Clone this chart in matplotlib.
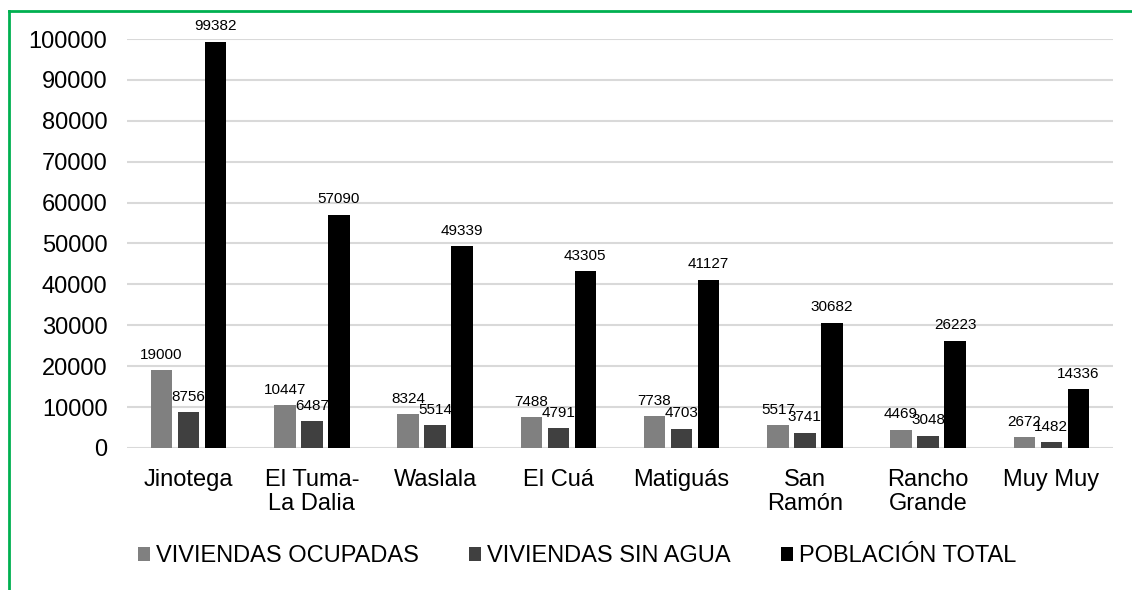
import matplotlib
matplotlib.use("Agg")
import matplotlib.pyplot as plt
from matplotlib.lines import Line2D
from matplotlib.patches import Patch
import numpy as np

plt.rcParams['font.family'] = ['Liberation Sans', 'DejaVu Sans']

categories = ["Jinotega", "El Tuma-\nLa Dalia", "Waslala", "El Cuá", "Matiguás",
              "San\nRamón", "Rancho\nGrande", "Muy Muy"]
viviendas_ocupadas = [19000, 10447, 8324, 7488, 7738, 5517, 4469, 2672]
viviendas_sin_agua = [8756, 6487, 5514, 4791, 4703, 3741, 3048, 1482]
poblacion_total = [99382, 57090, 49339, 43305, 41127, 30682, 26223, 14336]
series_names = ["VIVIENDAS OCUPADAS", "VIVIENDAS SIN AGUA", "POBLACIÓN TOTAL"]
yticks = list(range(0, 100001, 10000))

W, H = 1132, 590
fig = plt.figure(figsize=(W / 100, H / 100), dpi=100)
ax = fig.add_axes([126.9 / W, 1 - 448 / H, (1113 - 126.9) / W, (448 - 39) / H])

x = np.arange(len(categories))
colors = ["#808080", "#404040", "#000000"]
width = 0.175
offset = 0.219
for i, (vals, col, name) in enumerate(zip([viviendas_ocupadas, viviendas_sin_agua, poblacion_total],
                                          colors, series_names)):
    bars = ax.bar(x + (i - 1) * offset, vals, width, color=col, label=name, zorder=3)
    for b, v in zip(bars, vals):
        ax.annotate(str(v), (b.get_x() + b.get_width() / 2, v), xytext=(0, 6),
                    textcoords="offset points", ha="center", va="bottom",
                    fontsize=11, color="#000000", annotation_clip=False, zorder=4)

ax.set_xlim(-0.5, len(categories) - 0.5)
ax.set_ylim(0, 100000)
ax.set_yticks(yticks)
ax.set_yticklabels([str(t) for t in yticks], fontsize=17)
ax.set_xticks(x)
ax.set_xticklabels(categories, fontsize=17, linespacing=1.15)
ax.tick_params(axis='both', length=0)
ax.tick_params(axis='y', pad=14)
ax.tick_params(axis='x', pad=15)
ax.yaxis.grid(True, color="#d9d9d9", linewidth=1.5, zorder=0)
ax.set_axisbelow(True)
for s in ax.spines.values():
    s.set_visible(False)

handles = [Patch(facecolor=c, edgecolor='none') for c in colors]
fig.legend(handles, series_names, loc='center', bbox_to_anchor=(577 / W, 1 - 556 / H),
           ncol=3, frameon=False, fontsize=17, handlelength=0.52, handleheight=0.52,
           handletextpad=0.22, columnspacing=2.15)

# green frame (top and left visible)
green = "#00b050"
fig.add_artist(Line2D([9 / W, 1.0], [1 - 11 / H, 1 - 11 / H], color=green, linewidth=2,
                      transform=fig.transFigure))
fig.add_artist(Line2D([9 / W, 9 / W], [0.0, 1 - 11 / H], color=green, linewidth=2,
                      transform=fig.transFigure))

fig.savefig("out.png", dpi=100, facecolor="white")
